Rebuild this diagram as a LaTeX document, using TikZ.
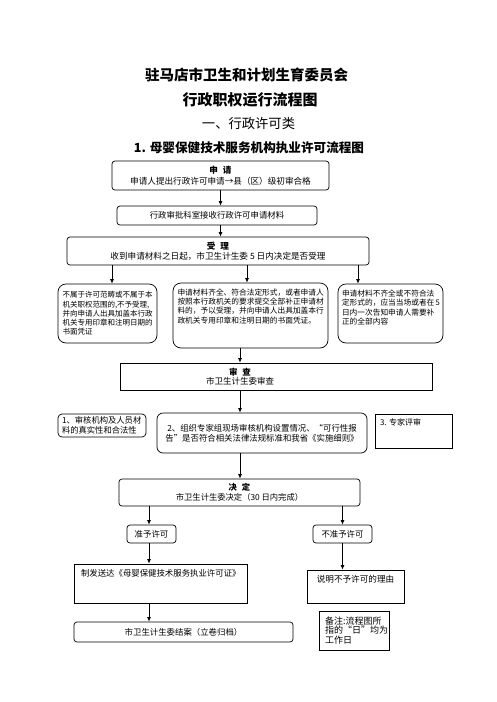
\documentclass[tikz,border=0pt]{standalone}
\usepackage{fontspec}
\setmainfont{Noto Sans CJK SC}
\usepackage{tikz}
\usetikzlibrary{arrows.meta}

\newcommand{\fs}[2]{\fontsize{#1}{#2}\selectfont}
\newcommand{\hd}[2]{\textbf{#1\hspace{5pt}#2}}
\newcommand{\topbox}[3]{\parbox[c][#2][t]{#1}{#3}}

\begin{document}
\begin{tikzpicture}[x=1pt, y=-1pt, >={Latex[length=4.5pt,width=3.8pt]}]
\tikzstyle{rbox} = [draw, line width=0.7pt, rounded corners=3pt, align=center, inner sep=2pt]
\tikzstyle{sbox} = [draw, line width=0.7pt, align=center, inner sep=2pt]
\tikzset{every node/.style={font=\fs{8.4}{10}}, arr/.style={->, line width=0.7pt}}
\useasboundingbox (0,0) rectangle (496,702);

% titles
\node[font=\bfseries\fs{14.5}{16}] (t1) at (246.5,75) {驻马店市卫生和计划生育委员会};
\node[font=\bfseries\fs{15}{16}] (t2) at (250,100) {行政职权运行流程图};
\node[font=\fs{13.3}{15}] (t3) at (248.5,123) {一、行政许可类};
\node[font=\bfseries\fs{12.6}{14}] (t4) at (249,148) {1. 母婴保健技术服务机构执业许可流程图};

% application
\node[rbox, minimum width=217pt, minimum height=29pt, font=\fs{8.6}{11}] (sq) at (220.5,175.5)
  {\hd{申}{请}\\申请人提出行政许可申请→县（区）级初审合格};
\node[rbox, minimum width=200pt, minimum height=19pt] (js) at (217,215.5) {行政审批科室接收行政许可申请材料};
\node[rbox, minimum width=302pt, minimum height=28pt, font=\fs{8.6}{10}] (sl) at (218,251)
  {\hd{受}{理}\\收到申请材料之日起，市卫生计生委 5 日内决定是否受理};

% acceptance results
\node[rbox, rounded corners=8pt, minimum width=99pt, minimum height=59pt, text width=90pt,
  inner xsep=4.5pt, align=left, font=\fs{7.5}{9.2}] (bsl) at (107.5,313.5)
  {不属于许可范畴或不属于本\\机关职权范围的,不予受理,\\并向申请人出具加盖本行政\\机关专用印章和注明日期的\\书面凭证};
\node[rbox, rounded corners=8pt, inner xsep=4.5pt, inner ysep=6pt, align=left, font=\fs{7.7}{9.2}] (tg) at (250.5,315.5)
  {\topbox{146pt}{53pt}{申请材料齐全、符合法定形式，或者申请人\\按照本行政机关的要求提交全部补正申请材\\料的，予以受理，并向申请人出具加盖本行\\政机关专用印章和注明日期的书面凭证。}};
\node[rbox, rounded corners=8pt, inner xsep=4pt, inner ysep=6pt, align=left, font=\fs{7.7}{9.4}] (bq) at (390.5,313.5)
  {\topbox{97pt}{47pt}{申请材料不齐全或不符合法\\定形式的，应当当场或者在~5\\日内一次告知申请人需要补\\正的全部内容}};

% review
\node[sbox, minimum width=312pt, minimum height=27pt, text width=306pt, inner xsep=3pt, font=\fs{8.5}{9.5}] (sc) at (276,376.5)
  {\leftskip=0pt plus 1fil \rightskip=72pt plus 1fil \parfillskip=0pt
   \hd{审}{查}\par 市卫生计生委审查\par};
\node[rbox, rounded corners=4pt, minimum width=88pt, minimum height=23pt, text width=80pt, inner xsep=4pt,
  align=left, font=\fs{8.3}{10}] (hc) at (102,425.5) {1、审核机构及人员材\\料的真实性和合法性};
\node[rbox, rounded corners=6pt, minimum width=210pt, minimum height=40pt] (zz) at (262,433)
  {2、组织专家组现场审核机构设置情况、“可行性报\\告”是否符合相关法律法规标准和我省《实施细则》};
\node[sbox, inner xsep=5pt, inner ysep=5pt, align=left, font=\fs{8}{10}] (ps) at (413.5,431)
  {\topbox{67pt}{24pt}{3. 专家评审}};

% decision
\node[rbox, minimum width=241pt, minimum height=27pt, font=\fs{8.3}{9.5}] (jd) at (239.5,492.5)
  {\hd{决}{定}\\市卫生计生委决定（30 日内完成）};
\node[rbox, minimum width=49pt, minimum height=18pt] (zy) at (151.5,534) {准予许可};
\node[rbox, minimum width=59pt, minimum height=18pt] (bzy) at (342.5,534) {不准予许可};
\node[sbox, inner xsep=7pt, inner ysep=5pt, align=left] (fz) at (160.5,583.5)
  {\topbox{159pt}{29pt}{制发送达《母婴保健技术服务执业许可证》}};
\node[sbox, inner xsep=5pt, inner ysep=5pt, font=\fs{8.6}{10}] (sm) at (355.5,586.5)
  {\topbox{87pt}{23pt}{\centering 说明不予许可的理由}};
\node[rbox, minimum width=219pt, minimum height=20pt] (ja) at (183.5,632) {市卫生计生委结案（立卷归档）};
\node[sbox, minimum width=70pt, minimum height=39pt, text width=58pt, inner xsep=6pt, align=left,
  font=\fs{9}{9.5}] (bz) at (354,630.5) {备注:流程图所\\指的“日”均为\\工作日};

% connectors
\coordinate (xa) at ([xshift=4.5pt]bsl.north);
\coordinate (xb) at ([xshift=-3.5pt]tg.north);
\coordinate (xc) at ([xshift=-32.5pt]bq.north);
\coordinate (xd) at ([xshift=-10.5pt]tg.south);
\coordinate (xe) at ([xshift=-2.5pt]zy.south);
\draw[arr] (sq.south) -- (sq.south |- js.north);
\draw[arr] (sq.south |- js.south) -- (sq.south |- sl.north);
\draw[arr] (xa |- sl.south) -- (xa);
\draw[arr] (xb |- sl.south) -- (xb);
\draw[arr] (xc |- sl.south) -- (xc);
\draw[arr] (xd) -- (xd |- sc.north);
\draw[arr] (xd |- sc.south) -- (xd |- zz.north);
\draw[arr] (xd |- zz.south) -- (xd |- jd.north);
\draw[arr] (xe |- jd.south) -- (xe |- zy.north);
\draw[arr] (bzy.north |- jd.south) -- (bzy.north);
\draw[arr] (xe) -- (xe |- fz.north);
\draw[arr] (xe |- fz.south) -- (xe |- ja.north);
\draw[arr] (bzy.south) -- (bzy.south |- sm.north);
\end{tikzpicture}
\end{document}
